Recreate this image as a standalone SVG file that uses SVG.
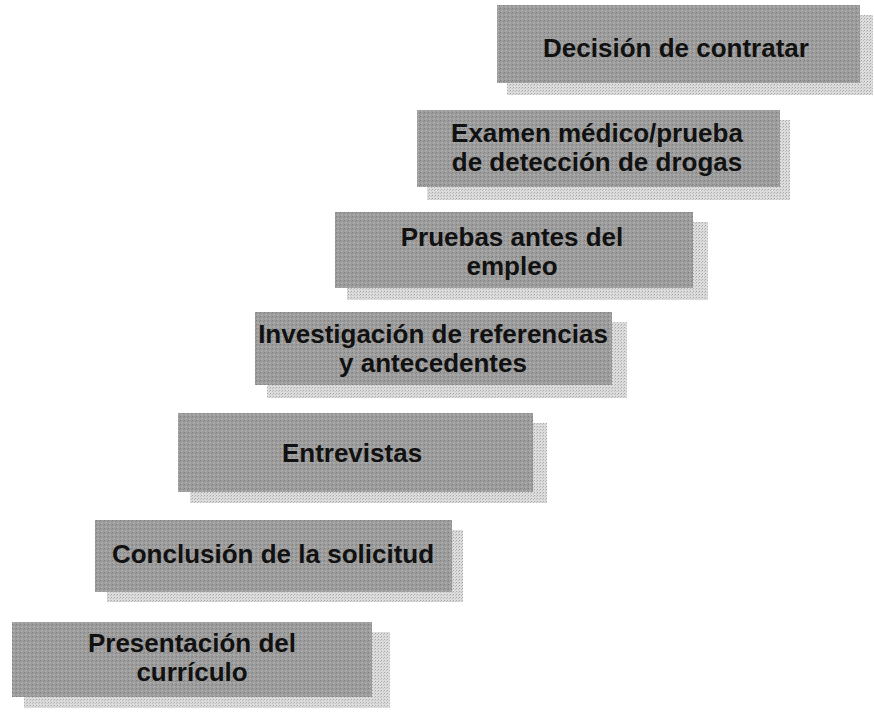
<svg xmlns="http://www.w3.org/2000/svg" width="874" height="714" viewBox="0 0 874 714">
<defs>
<pattern id="dots" width="3" height="3" patternUnits="userSpaceOnUse">
<rect width="3" height="3" fill="#dcdcdc"/>
<rect width="1" height="1" fill="#a8a8a8"/>
<rect x="2" y="1" width="1" height="1" fill="#bdbdbd"/>
</pattern>
<pattern id="grain" width="4" height="4" patternUnits="userSpaceOnUse">
<rect width="4" height="4" fill="#9c9c9c"/>
<rect width="1" height="1" fill="#7e7e7e"/>
<rect x="2" y="2" width="1" height="1" fill="#b6b6b6"/>
<rect x="3" y="1" width="1" height="1" fill="#888"/>
<rect x="1" y="3" width="1" height="1" fill="#b0b0b0"/>
</pattern>
</defs>
<style>
.shadow{fill:url(#dots)}
.box{fill:url(#grain)}
.label{font-family:"Liberation Sans",Arial,sans-serif;font-weight:bold;font-size:26px;fill:#111111;text-anchor:middle}
</style>
<rect width="874" height="714" fill="#ffffff"/>
<g id="connectors"></g>
<g id="n1">
<rect class="shadow" x="507" y="15" width="366" height="80"/>
<rect class="box" x="497" y="5" width="363" height="78"/>
<text class="label" x="676" y="57">Decisión de contratar</text>
</g>
<g id="n2">
<rect class="shadow" x="427" y="120" width="363" height="80"/>
<rect class="box" x="417" y="110" width="363" height="77"/>
<text class="label" x="597" y="142">Examen médico/prueba</text>
<text class="label" x="597" y="171">de detección de drogas</text>
</g>
<g id="n3">
<rect class="shadow" x="347" y="222" width="361" height="78"/>
<rect class="box" x="335" y="212" width="358" height="76"/>
<text class="label" x="512" y="246">Pruebas antes del</text>
<text class="label" x="512" y="275">empleo</text>
</g>
<g id="n4">
<rect class="shadow" x="267" y="322" width="360" height="76"/>
<rect class="box" x="255" y="312" width="357" height="73"/>
<text class="label" x="433" y="343">Investigación de referencias</text>
<text class="label" x="433" y="372">y antecedentes</text>
</g>
<g id="n5">
<rect class="shadow" x="190" y="423" width="357" height="80"/>
<rect class="box" x="178" y="413" width="355" height="79"/>
<text class="label" x="352" y="462">Entrevistas</text>
</g>
<g id="n6">
<rect class="shadow" x="107" y="530" width="356" height="72"/>
<rect class="box" x="95" y="520" width="357" height="72"/>
<text class="label" x="273" y="563">Conclusión de la solicitud</text>
</g>
<g id="n7">
<rect class="shadow" x="24" y="632" width="366" height="76"/>
<rect class="box" x="12" y="622" width="360" height="75"/>
<text class="label" x="192" y="652">Presentación del</text>
<text class="label" x="192" y="681">currículo</text>
</g>
</svg>
